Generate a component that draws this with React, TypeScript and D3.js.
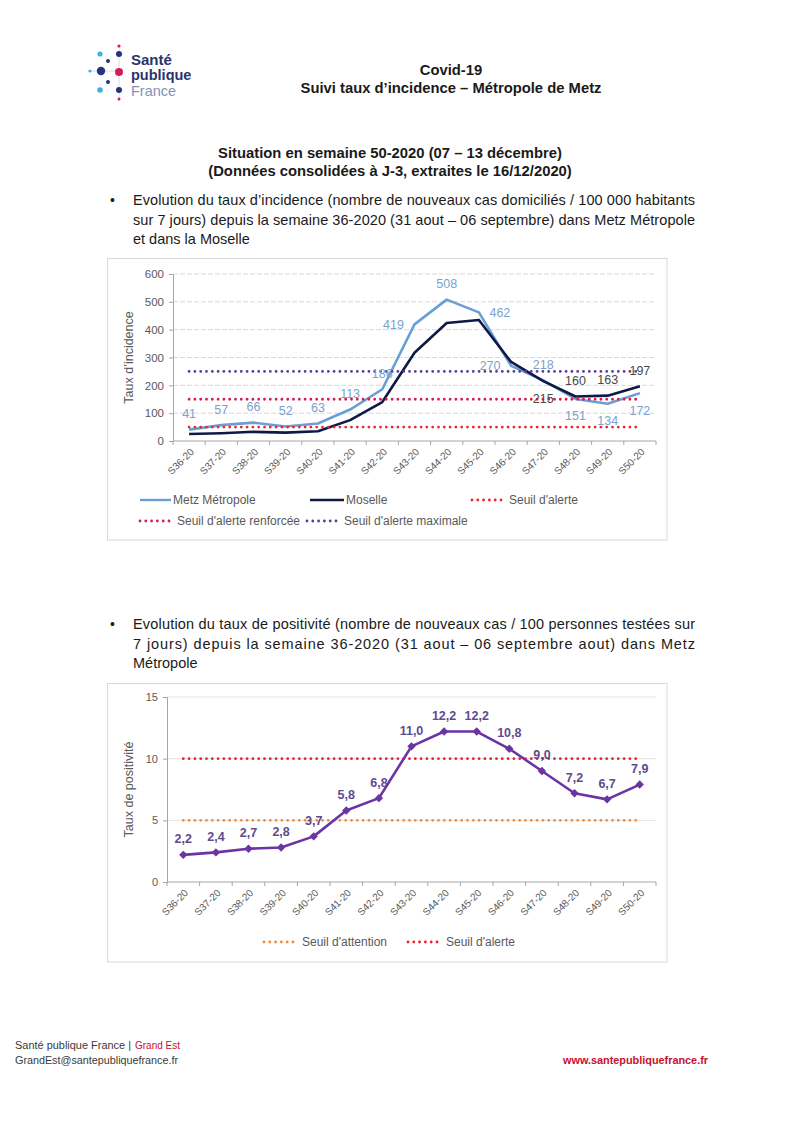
import * as d3 from "d3";
import { useEffect, useRef } from "react";

const weeks = [
  "S36-20", "S37-20", "S38-20", "S39-20", "S40-20", "S41-20", "S42-20", "S43-20",
  "S44-20", "S45-20", "S46-20", "S47-20", "S48-20", "S49-20", "S50-20",
];

// taux d'incidence / 100 000 hab. sur 7 jours
const metzIncidence = [41, 57, 66, 52, 63, 113, 186, 419, 508, 462, 270, 218, 151, 134, 172];
const moselleIncidence = [25, 28, 33, 30, 35, 75, 140, 317, 424, 435, 284, 215, 160, 163, 197];
const incidenceTicks = [0, 100, 200, 300, 400, 500, 600];
const incidenceThresholds = [50, 150, 250];
const incidenceThresholdNames = ["Seuil d'alerte", "Seuil d'alerte renforcée", "Seuil d'alerte maximale"];

// taux de positivité (%)
const positivity = [2.2, 2.4, 2.7, 2.8, 3.7, 5.8, 6.8, 11.0, 12.2, 12.2, 10.8, 9.0, 7.2, 6.7, 7.9];
const positivityTicks = [0, 5, 10, 15];
const positivityThresholds = [5, 10];
const positivityThresholdNames = ["Seuil d'attention", "Seuil d'alerte"];

type Pos = "t" | "b" | "l" | "r" | null;
// where Excel put each data label
const metzLabelPos: Pos[] = ["t", "t", "t", "t", "t", "t", "t", "l", "t", "r", "l", "t", "b", "b", "b"];
const moselleLabelPos: Pos[] = [null, null, null, null, null, null, null, null, null, null, null, "b", "t", "t", "t"];

const FONT = "'Liberation Sans', Arial, Helvetica, sans-serif";
const AXIS = "#a6a6a6";
const TICK_TXT = "#595959";
const C_METZ = "#6a9fd6";
const C_MOSELLE = "#0e1a45";
const C_ALERTE = "#e8262f";
const C_RENF = "#d81b4a";
const C_MAX = "#5a3a96";
const C_ATT = "#f28a3a";
const C_POS = "#6b34a3";

const frac = (v: number) => v.toFixed(1).replace(".", ",");

export default function App() {
  const ref = useRef<SVGSVGElement | null>(null);

  useEffect(() => {
    const el = ref.current;
    if (!el) return;
    document.body.style.margin = "0";
    const svg = d3.select(el);
    svg.selectAll("*").remove();
    svg.append("rect").attr("width", 786).attr("height", 1125).attr("fill", "#fff");

    const txt = (
      x: number, y: number, s: string, size: number,
      opts: { weight?: string; fill?: string; anchor?: string; len?: number; squeeze?: boolean } = {},
    ) => {
      const t = svg.append("text")
        .attr("x", x).attr("y", y)
        .attr("font-family", FONT)
        .attr("font-size", size)
        .attr("font-weight", opts.weight ?? "normal")
        .attr("fill", opts.fill ?? "#1a1a1a")
        .attr("text-anchor", opts.anchor ?? "start")
        .text(s);
      if (opts.len) {
        t.attr("textLength", opts.len).attr("lengthAdjust", opts.squeeze ? "spacingAndGlyphs" : "spacing");
      }
      return t;
    };

    // ---- logo
    const logo = svg.append("g");
    logo.append("line").attr("x1", 88).attr("x2", 121).attr("y1", 71).attr("y2", 71)
      .attr("stroke", "#c9d3e6").attr("stroke-width", 0.8);
    logo.append("line").attr("x1", 119).attr("x2", 119).attr("y1", 45).attr("y2", 100)
      .attr("stroke", "#c9d3e6").attr("stroke-width", 0.8);
    const dots: [number, number, number, string][] = [
      [119, 46, 1.6, "#d9195c"], [100, 54, 2.6, "#3fb1e3"], [119, 54, 3, "#24357c"],
      [108, 61, 2, "#24357c"], [90, 71, 1.5, "#3fb1e3"], [101, 71, 4.2, "#24357c"],
      [119, 72, 4, "#d9195c"], [108, 82, 2, "#24357c"], [100, 90, 2.8, "#3fb1e3"],
      [119, 90, 3, "#24357c"], [119, 99, 1.5, "#d9195c"],
    ];
    logo.selectAll("circle").data(dots).join("circle")
      .attr("cx", (d) => d[0]).attr("cy", (d) => d[1]).attr("r", (d) => d[2]).attr("fill", (d) => d[3]);
    txt(131, 65, "Santé", 15, { weight: "bold", fill: "#2b3370" });
    txt(131, 80, "publique", 14.5, { weight: "bold", fill: "#2b3370" });
    txt(131, 96, "France", 14.5, { fill: "#8393b8" });

    // ---- titles
    txt(451, 75, "Covid-19", 14.8, { weight: "bold", anchor: "middle" });
    txt(451, 93, "Suivi taux d’incidence – Métropole de Metz", 14.8, { weight: "bold", anchor: "middle" });
    txt(390, 158, "Situation en semaine 50-2020 (07 – 13 décembre)", 14.8, { weight: "bold", anchor: "middle" });
    txt(390, 176, "(Données consolidées à J-3, extraites le 16/12/2020)", 14.8, { weight: "bold", anchor: "middle" });

    txt(110, 205, "•", 14);
    txt(133, 205, "Evolution du taux d’incidence (nombre de nouveaux cas domiciliés / 100 000 habitants", 14.5, { len: 562 });
    txt(133, 224.5, "sur 7 jours) depuis la semaine 36-2020 (31 aout – 06 septembre) dans Metz Métropole", 14.5, { len: 562 });
    txt(133, 244, "et dans la Moselle", 14.5);

    txt(110, 629, "•", 14);
    txt(133, 629, "Evolution du taux de positivité (nombre de nouveaux cas / 100 personnes testées sur", 14.5, { len: 562 });
    txt(133, 648.5, "7 jours) depuis la semaine 36-2020 (31 aout – 06 septembre aout) dans Metz", 14.5, { len: 562 });
    txt(133, 668, "Métropole", 14.5);

    // ---- footer
    txt(15, 1049, "Santé publique France |", 11.5, { fill: "#3a3a3a", len: 116, squeeze: true });
    txt(135, 1049, "Grand Est", 11.5, { fill: "#c8102e", len: 45, squeeze: true });
    txt(15, 1064, "GrandEst@santepubliquefrance.fr", 11.5, { fill: "#3a3a3a", len: 163, squeeze: true });
    txt(563, 1064, "www.santepubliquefrance.fr", 11.5, { fill: "#c8102e", weight: "bold", len: 145, squeeze: true });

    const dotted = (sel: d3.Selection<SVGLineElement, any, any, any>, color: string) =>
      sel.attr("stroke", color).attr("stroke-width", 2.8)
        .attr("stroke-linecap", "round").attr("stroke-dasharray", "0,5.8");

    const xAxis = (x: d3.ScaleBand<string>, y0: number) => {
      const [r0, r1] = x.range();
      const ax = svg.append("g");
      ax.append("line").attr("x1", r0).attr("x2", r1).attr("y1", y0).attr("y2", y0)
        .attr("stroke", AXIS);
      ax.selectAll("line.tk")
        .data([...weeks.map((w) => x(w) ?? 0), r1])
        .join("line").attr("class", "tk")
        .attr("x1", (d) => d).attr("x2", (d) => d)
        .attr("y1", y0).attr("y2", y0 + 4).attr("stroke", AXIS);
      ax.selectAll("text")
        .data(weeks)
        .join("text")
        .attr("transform", (d) => `translate(${(x(d) ?? 0) + x.bandwidth() / 2 + 3},${y0 + 9}) rotate(-45)`)
        .attr("text-anchor", "end")
        .attr("dy", "0.35em")
        .attr("font-family", FONT)
        .attr("font-size", 10)
        .attr("fill", TICK_TXT)
        .text((d) => d);
    };

    const yAxis = (y: d3.ScaleLinear<number, number>, x0: number, ticks: number[], size: number) => {
      const ax = svg.append("g").attr("transform", `translate(${x0},0)`)
        .call(d3.axisLeft(y).tickValues(ticks).tickSize(4).tickPadding(5));
      ax.select(".domain").attr("stroke", AXIS);
      ax.selectAll(".tick line").attr("stroke", AXIS);
      ax.selectAll(".tick text").attr("fill", TICK_TXT).attr("font-size", size).attr("font-family", FONT);
    };

    const off = (p: Pos): [number, number] =>
      p === "t" ? [0, -16] : p === "b" ? [0, 17] : p === "l" ? [-21, 0] : [21, 0];

    const labels = (vals: number[], pos: Pos[], cx: (i: number) => number,
      y: d3.ScaleLinear<number, number>, color: string, fmt: (v: number) => string, weight: string) => {
      svg.append("g").selectAll("text")
        .data(vals.map((v, i) => ({ v, i, p: pos[i] })).filter((d) => d.p))
        .join("text")
        .attr("x", (d) => cx(d.i) + off(d.p)[0])
        .attr("y", (d) => y(d.v) + off(d.p)[1])
        .attr("dy", "0.35em")
        .attr("text-anchor", "middle")
        .attr("font-family", FONT).attr("font-size", 12.5).attr("font-weight", weight)
        .attr("fill", color)
        .text((d) => fmt(d.v));
    };

    // ================= Chart 1 : taux d'incidence
    svg.append("rect").attr("x", 107.5).attr("y", 258.5).attr("width", 559.5).attr("height", 281.5)
      .attr("fill", "#fff").attr("stroke", "#d9d9d9");

    const x1 = d3.scaleBand().domain(weeks).range([173, 656]);
    const y1 = d3.scaleLinear().domain([0, 600]).range([441, 274]);
    const cx1 = (i: number) => (x1(weeks[i]) ?? 0) + x1.bandwidth() / 2;

    svg.append("g").selectAll("line")
      .data(incidenceTicks.filter((t) => t > 0))
      .join("line")
      .attr("x1", 173).attr("x2", 656)
      .attr("y1", (d) => y1(d)).attr("y2", (d) => y1(d))
      .attr("stroke", "#d9d9d9").attr("stroke-dasharray", "5,2");

    yAxis(y1, 173, incidenceTicks, 11.5);
    xAxis(x1, 441);

    svg.append("text")
      .attr("transform", `translate(133,${(y1(0) + y1(600)) / 2}) rotate(-90)`)
      .attr("text-anchor", "middle")
      .attr("font-family", FONT).attr("font-size", 12.5).attr("fill", TICK_TXT)
      .text("Taux d’incidence");

    const line1 = d3.line<number>().x((_, i) => cx1(i)).y((d) => y1(d));
    svg.append("path").datum(metzIncidence).attr("d", line1)
      .attr("fill", "none").attr("stroke", C_METZ).attr("stroke-width", 2.6).attr("stroke-linejoin", "round");
    svg.append("path").datum(moselleIncidence).attr("d", line1)
      .attr("fill", "none").attr("stroke", C_MOSELLE).attr("stroke-width", 2.6).attr("stroke-linejoin", "round");

    const thrColors1 = [C_ALERTE, C_RENF, C_MAX];
    incidenceThresholds.forEach((v, k) => {
      dotted(
        svg.append("line").attr("x1", cx1(0)).attr("x2", cx1(weeks.length - 1))
          .attr("y1", y1(v)).attr("y2", y1(v)),
        thrColors1[k],
      );
    });

    labels(metzIncidence, metzLabelPos, cx1, y1, "#7aa2cc", String, "normal");
    labels(moselleIncidence, moselleLabelPos, cx1, y1, "#4a4a4a", String, "normal");

    // legend 1
    const leg1 = svg.append("g").attr("font-family", FONT).attr("font-size", 12).attr("fill", TICK_TXT);
    leg1.append("line").attr("x1", 140).attr("x2", 171).attr("y1", 500).attr("y2", 500)
      .attr("stroke", C_METZ).attr("stroke-width", 2.4);
    leg1.append("text").attr("x", 173).attr("y", 504).text("Metz Métropole");
    leg1.append("line").attr("x1", 310).attr("x2", 344).attr("y1", 500).attr("y2", 500)
      .attr("stroke", C_MOSELLE).attr("stroke-width", 2.6);
    leg1.append("text").attr("x", 346).attr("y", 504).text("Moselle");
    const legDots1: [number, number, number][] = [[472, 500, 0], [140, 521, 1], [307, 521, 2]];
    legDots1.forEach(([lx, ly, k]) => {
      dotted(leg1.append("line").attr("x1", lx).attr("x2", lx + 32).attr("y1", ly).attr("y2", ly), thrColors1[k]);
      leg1.append("text").attr("x", lx + 37).attr("y", ly + 4).text(incidenceThresholdNames[k]);
    });

    // ================= Chart 2 : taux de positivité
    svg.append("rect").attr("x", 107.5).attr("y", 683.5).attr("width", 559.5).attr("height", 278.5)
      .attr("fill", "#fff").attr("stroke", "#d9d9d9");

    const x2 = d3.scaleBand().domain(weeks).range([167, 656]);
    const y2 = d3.scaleLinear().domain([0, 15]).range([882, 697]);
    const cx2 = (i: number) => (x2(weeks[i]) ?? 0) + x2.bandwidth() / 2;

    svg.append("g").selectAll("line")
      .data(positivityTicks.filter((t) => t > 0))
      .join("line")
      .attr("x1", 167).attr("x2", 656)
      .attr("y1", (d) => y2(d)).attr("y2", (d) => y2(d))
      .attr("stroke", "#e3e3e3");

    yAxis(y2, 167, positivityTicks, 11);
    xAxis(x2, 882);

    svg.append("text")
      .attr("transform", `translate(133,${(y2(0) + y2(15)) / 2}) rotate(-90)`)
      .attr("text-anchor", "middle")
      .attr("font-family", FONT).attr("font-size", 12.5).attr("fill", TICK_TXT)
      .text("Taux de positivité");

    const thrColors2 = [C_ATT, C_ALERTE];
    positivityThresholds.forEach((v, k) => {
      dotted(
        svg.append("line").attr("x1", cx2(0)).attr("x2", cx2(weeks.length - 1))
          .attr("y1", y2(v)).attr("y2", y2(v)),
        thrColors2[k],
      );
    });

    const line2 = d3.line<number>().x((_, i) => cx2(i)).y((d) => y2(d));
    svg.append("path").datum(positivity).attr("d", line2)
      .attr("fill", "none").attr("stroke", C_POS).attr("stroke-width", 2.6).attr("stroke-linejoin", "round");
    svg.append("g").selectAll("path")
      .data(positivity)
      .join("path")
      .attr("transform", (d, i) => `translate(${cx2(i)},${y2(d)})`)
      .attr("d", "M0,-4.2L4.2,0L0,4.2L-4.2,0Z")
      .attr("fill", C_POS);

    labels(positivity, positivity.map(() => "t"), cx2, y2, "#5f4a8e", frac, "bold");

    const leg2 = svg.append("g").attr("font-family", FONT).attr("font-size", 12).attr("fill", TICK_TXT);
    const legDots2: [number, number][] = [[264, 0], [408, 1]];
    legDots2.forEach(([lx, k]) => {
      dotted(leg2.append("line").attr("x1", lx).attr("x2", lx + 32).attr("y1", 942).attr("y2", 942), thrColors2[k]);
      leg2.append("text").attr("x", lx + 38).attr("y", 946).text(positivityThresholdNames[k]);
    });
  }, []);

  return <svg ref={ref} width={786} height={1125} style={{ display: "block" }} />;
}
